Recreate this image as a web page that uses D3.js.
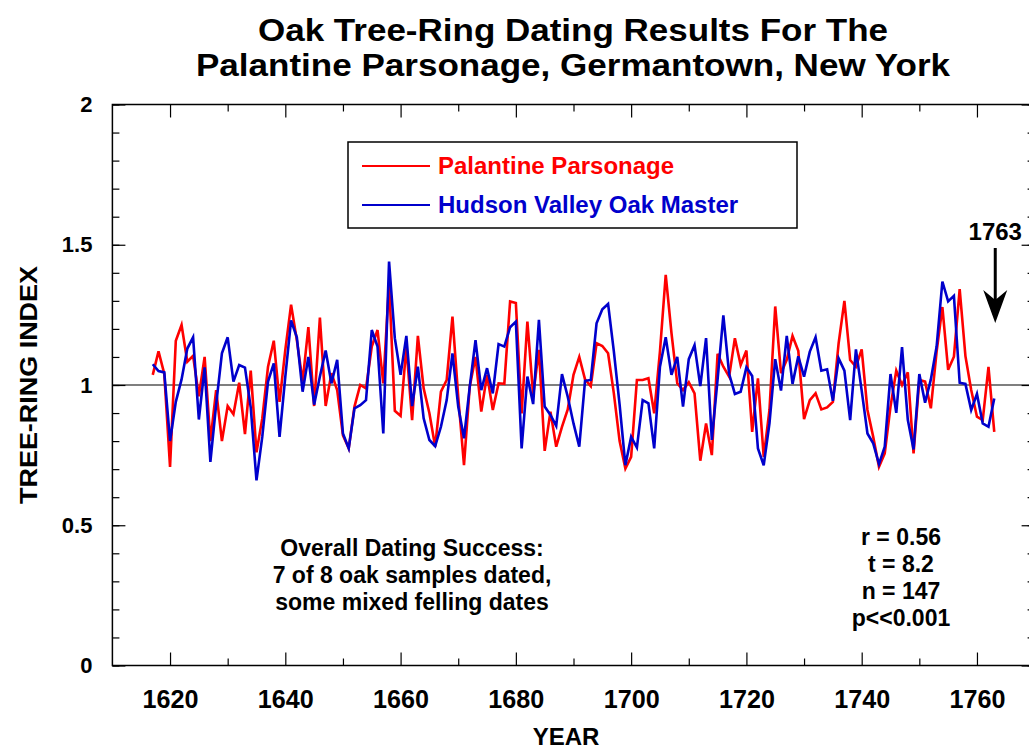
<!DOCTYPE html>
<html>
<head>
<meta charset="utf-8">
<script src="https://cdn.jsdelivr.net/npm/d3@7"></script>
<style>
body { margin: 0; background: #fff; }
text { font-family: "Liberation Sans", Arial, Helvetica, sans-serif; font-weight: bold; }
</style>
</head>
<body>
<script>

var firstYear = 1617;

// Palantine Parsonage chronology, 1617-1763
var parsonage = [
  1.036, 1.12, 1.04,
  0.708, 1.158, 1.214, 1.083, 1.104, 0.96, 1.10, 0.80, 0.982, 0.80,
  0.925, 0.896, 1.008, 0.825, 1.051, 0.76, 0.88, 1.065, 1.158, 0.94,
  1.125, 1.286, 1.16, 1.012, 1.206, 0.925, 1.24, 0.925, 1.042, 0.982,
  0.82, 0.774, 0.923, 1.0, 0.988, 1.137, 1.196, 1.006, 1.363, 0.908,
  0.89, 1.137, 0.875, 1.175, 0.988, 0.899, 0.78, 0.976, 1.018, 1.244,
  0.958, 0.714, 0.995, 1.10, 0.905, 1.036, 0.911, 1.006, 1.004, 1.298,
  1.292, 0.899, 1.226, 0.964, 1.125, 0.765, 0.905, 0.78, 0.851, 0.913,
  1.036, 1.10, 1.02, 0.996, 1.149, 1.139, 1.113, 0.97, 0.80, 0.702,
  0.744, 1.018, 1.018, 1.024, 0.899, 1.12, 1.393, 1.185, 1.006, 0.982,
  1.01, 0.97, 0.73, 0.863, 0.75, 1.111, 1.065, 1.03, 1.167, 1.071,
  1.123, 0.833, 1.024, 0.744, 0.911, 1.28, 1.042, 1.09, 1.175, 1.122,
  0.878, 0.946, 0.97, 0.913, 0.92, 0.94, 1.149, 1.30, 1.089, 1.065,
  1.127, 0.911, 0.815, 0.708, 0.756, 0.923, 1.051, 1.0, 1.045, 0.756,
  1.018, 1.012, 0.917, 1.119, 1.278, 1.054, 1.101, 1.342, 1.103, 0.982,
  0.887, 0.875, 1.065, 0.833
];

// Hudson Valley oak master chronology, same years
var master = [
  1.074, 1.05, 1.045,
  0.80, 0.94, 1.02, 1.13, 1.17, 0.877, 1.063, 0.726, 0.93, 1.113,
  1.17, 1.012, 1.071, 1.062, 0.92, 0.66, 0.815, 1.012, 1.077, 0.815,
  1.03, 1.23, 1.17, 0.976, 1.10, 0.93, 1.03, 1.123, 1.006, 1.09,
  0.827, 0.774, 0.917, 0.928, 0.946, 1.196, 1.137, 0.827, 1.44, 1.167,
  1.036, 1.175, 0.925, 1.065, 0.881, 0.804, 0.782, 0.851, 0.946, 1.113,
  0.923, 0.81, 0.994, 1.16, 0.982, 1.06, 0.97, 1.146, 1.137, 1.206,
  1.226, 0.774, 1.03, 0.932, 1.232, 0.923, 0.893, 0.854, 1.039, 0.958,
  0.863, 0.78, 1.015, 1.018, 1.22, 1.27, 1.289, 1.12, 0.93, 0.714,
  0.815, 0.777, 0.946, 0.935, 0.774, 1.065, 1.17, 1.036, 1.10, 0.923,
  1.092, 1.142, 0.996, 1.167, 0.804, 1.02, 1.248, 1.04, 0.968, 0.976,
  1.063, 1.032, 0.774, 0.714, 0.863, 1.092, 0.98, 1.175, 1.004, 1.102,
  1.03, 1.119, 1.17, 1.051, 1.056, 0.944, 1.095, 1.051, 0.875, 1.127,
  0.98, 0.827, 0.792, 0.718, 0.78, 1.039, 0.901, 1.135, 0.876, 0.77,
  1.039, 0.937, 1.02, 1.137, 1.369, 1.298, 1.318, 1.008, 1.004, 0.911,
  0.968, 0.863, 0.851, 0.952
];

var seriesNames = ["Palantine Parsonage", "Hudson Valley Oak Master"];
var seriesColors = ["#ff0000", "#0000cc"];

var yearTicks = [1620, 1640, 1660, 1680, 1700, 1720, 1740, 1760];
var yearMinor = [1630, 1650, 1670, 1690, 1710, 1730, 1750, 1770];
var indexTicks = [0, 0.5, 1, 1.5, 2];
var indexMinor = d3.range(0, 2.01, 0.1);

var titleLines = ["Oak Tree-Ring Dating Results For The",
                  "Palantine Parsonage, Germantown, New York"];
var noteLines = ["Overall Dating Success:", "7 of 8 oak samples dated,", "some mixed felling dates"];
var statLines = ["r = 0.56", "t = 8.2", "n = 147", "p<<0.001"];
var fellingYear = 1763;

var width = 1029, height = 751;

var x = d3.scaleLinear().domain([1610, 1770]).range([112.4, 1034.6]);
var y = d3.scaleLinear().domain([0, 2]).range([665.5, 104.5]);

var svg = d3.select("body").append("svg")
  .attr("width", width)
  .attr("height", height);

// title
svg.selectAll(".title")
  .data(titleLines)
 .enter().append("text")
  .attr("class", "title")
  .attr("x", 573)
  .attr("y", function (d, i) { return 41 + i * 35; })
  .attr("text-anchor", "middle")
  .style("font-size", "32px")
  .attr("textLength", function (d, i) { return i == 0 ? 630 : 754; })
  .attr("lengthAdjust", "spacingAndGlyphs")
  .text(function (d) { return d; });

// frame
svg.append("rect")
  .attr("x", x(1610))
  .attr("y", y(2))
  .attr("width", x(1770) - x(1610))
  .attr("height", y(0) - y(2))
  .attr("fill", "none")
  .attr("stroke", "#000")
  .attr("stroke-width", 1.5);

// reference line at index 1
svg.append("line")
  .attr("x1", x(1610)).attr("x2", x(1770))
  .attr("y1", y(1)).attr("y2", y(1))
  .attr("stroke", "#000")
  .attr("stroke-width", 1.2);

function tidy(g) {
  g.select(".domain").remove();
  g.selectAll(".tick line").attr("stroke", "#000").attr("stroke-width", 1.2);
}

// y axes (ticks pointing in)
svg.append("g")
  .attr("transform", "translate(" + x(1610) + ",0)")
  .call(d3.axisLeft(y).tickValues(indexMinor).tickSize(-7).tickFormat(""))
  .call(tidy);
svg.append("g")
  .attr("transform", "translate(" + x(1610) + ",0)")
  .call(d3.axisLeft(y).tickValues(indexTicks).tickSize(-13).tickPadding(20)
    .tickFormat(function (d) { return d == 0 || d == 1 || d == 2 ? d3.format("d")(d) : d3.format(".1f")(d); }))
  .call(tidy)
  .selectAll("text").style("font-size", "22px").attr("fill", "#000");

svg.append("g")
  .attr("transform", "translate(" + x(1770) + ",0)")
  .call(d3.axisRight(y).tickValues(indexMinor).tickSize(-7).tickFormat(""))
  .call(tidy);
svg.append("g")
  .attr("transform", "translate(" + x(1770) + ",0)")
  .call(d3.axisRight(y).tickValues(indexTicks).tickSize(-13).tickFormat(""))
  .call(tidy);

// x axes
svg.append("g")
  .attr("transform", "translate(0," + y(0) + ")")
  .call(d3.axisBottom(x).tickValues(yearMinor).tickSize(-7).tickFormat(""))
  .call(tidy);
svg.append("g")
  .attr("transform", "translate(0," + y(0) + ")")
  .call(d3.axisBottom(x).tickValues(yearTicks).tickSize(-13).tickPadding(24).tickFormat(d3.format("d")))
  .call(tidy)
  .selectAll("text").style("font-size", "26px").attr("fill", "#000")
  .attr("textLength", 56).attr("lengthAdjust", "spacingAndGlyphs");

svg.append("g")
  .attr("transform", "translate(0," + y(2) + ")")
  .call(d3.axisTop(x).tickValues(yearMinor).tickSize(-7).tickFormat(""))
  .call(tidy);
svg.append("g")
  .attr("transform", "translate(0," + y(2) + ")")
  .call(d3.axisTop(x).tickValues(yearTicks).tickSize(-13).tickFormat(""))
  .call(tidy);

// axis titles
svg.append("text")
  .attr("transform", "translate(37,385) rotate(-90)")
  .attr("text-anchor", "middle")
  .style("font-size", "24px")
  .attr("textLength", 238)
  .attr("lengthAdjust", "spacingAndGlyphs")
  .text("TREE-RING INDEX");

svg.append("text")
  .attr("x", 566)
  .attr("y", 745)
  .attr("text-anchor", "middle")
  .style("font-size", "24px")
  .text("YEAR");

// series
var line = d3.line()
  .x(function (d, i) { return x(firstYear + i); })
  .y(function (d) { return y(d); });

svg.selectAll(".series")
  .data([parsonage, master])
 .enter().append("path")
  .attr("class", "series")
  .attr("d", line)
  .attr("fill", "none")
  .attr("stroke", function (d, i) { return seriesColors[i]; })
  .attr("stroke-width", 2.6)
  .attr("stroke-linejoin", "miter");

// legend
svg.append("rect")
  .attr("x", 348).attr("y", 142)
  .attr("width", 449).attr("height", 86)
  .attr("fill", "#fff")
  .attr("stroke", "#000")
  .attr("stroke-width", 1.5);

var legend = svg.selectAll(".legend")
  .data(seriesNames)
 .enter().append("g")
  .attr("class", "legend")
  .attr("transform", function (d, i) { return "translate(0," + (166 + i * 39) + ")"; });

legend.append("line")
  .attr("x1", 362).attr("x2", 430)
  .attr("stroke", function (d, i) { return seriesColors[i]; })
  .attr("stroke-width", 2);

legend.append("text")
  .attr("x", 438)
  .attr("dy", "0.35em")
  .style("font-size", "24px")
  .attr("fill", function (d, i) { return seriesColors[i]; })
  .text(function (d) { return d; });

// notes
svg.selectAll(".note")
  .data(noteLines)
 .enter().append("text")
  .attr("class", "note")
  .attr("x", 412)
  .attr("y", function (d, i) { return 556 + i * 27; })
  .attr("text-anchor", "middle")
  .style("font-size", "23px")
  .text(function (d) { return d; });

svg.selectAll(".stat")
  .data(statLines)
 .enter().append("text")
  .attr("class", "stat")
  .attr("x", 901)
  .attr("y", function (d, i) { return 545 + i * 27; })
  .attr("text-anchor", "middle")
  .style("font-size", "23px")
  .text(function (d) { return d; });

// felling year arrow
var ax = x(fellingYear) + 1;
svg.append("text")
  .attr("x", ax)
  .attr("y", 240)
  .attr("text-anchor", "middle")
  .style("font-size", "24px")
  .text(fellingYear);

svg.append("line")
  .attr("x1", ax).attr("x2", ax)
  .attr("y1", 248).attr("y2", 300)
  .attr("stroke", "#000")
  .attr("stroke-width", 3);

svg.append("path")
  .attr("d", "M" + (ax - 12) + ",290 L" + ax + ",323 L" + (ax + 12) + ",290 L" + ax + ",300 Z")
  .attr("fill", "#000");

</script>
</body>
</html>
